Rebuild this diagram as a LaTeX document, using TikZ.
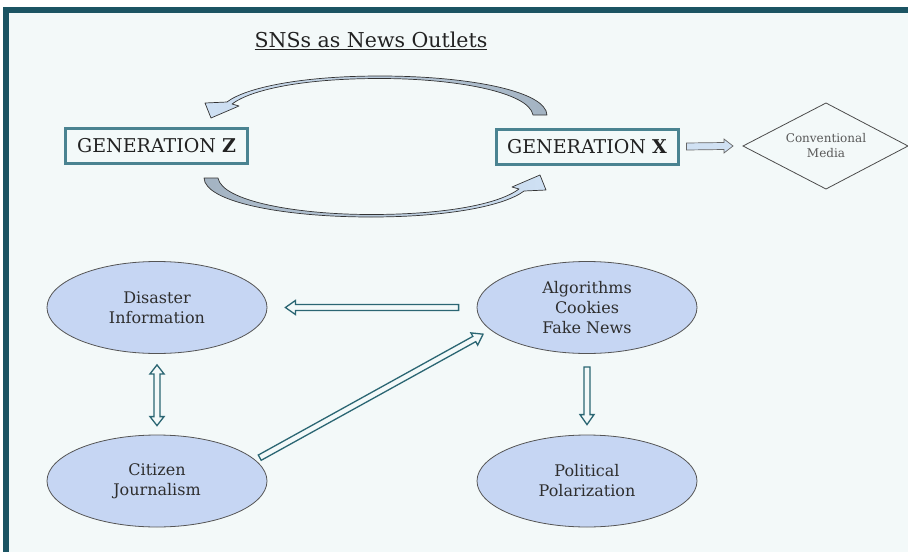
\documentclass[tikz,border=0pt]{standalone}
\usepackage{fontspec}
\setmainfont{DejaVu Serif}
\usetikzlibrary{calc,shapes.geometric}
\definecolor{barteal}{HTML}{1B5463}
\definecolor{bgc}{HTML}{F3F9F9}
\definecolor{boxteal}{HTML}{4A8391}
\definecolor{ovalfill}{HTML}{C6D6F3}
\definecolor{ovalline}{HTML}{555555}
\definecolor{arrteal}{HTML}{2B6673}
\definecolor{blockblue}{HTML}{D0E1F3}
\definecolor{headblue}{HTML}{CFE1F4}
\definecolor{tailgray}{HTML}{A3B3C2}
\definecolor{txt}{HTML}{222222}
\definecolor{txttwo}{HTML}{2E2E2E}
\newcommand\hollowarrow[2]{%
  \coordinate (ha-s) at (#1);
  \coordinate (ha-e) at (#2);
  \coordinate (ha-h) at ($(ha-e)!10pt!(ha-s)$);
  \draw[hollowarr] ($(ha-s)!3pt!90:(ha-e)$) -- ($(ha-h)!3pt!90:(ha-e)$) -- ($(ha-h)!7pt!90:(ha-e)$) -- (ha-e) -- ($(ha-h)!7pt!-90:(ha-e)$) -- ($(ha-h)!3pt!-90:(ha-e)$) -- ($(ha-s)!3pt!-90:(ha-e)$) -- cycle;
}
\newcommand\hollowdarrow[2]{%
  \coordinate (hd-s) at (#1);
  \coordinate (hd-e) at (#2);
  \coordinate (hd-a) at ($(hd-s)!9pt!(hd-e)$);
  \coordinate (hd-b) at ($(hd-e)!9pt!(hd-s)$);
  \draw[hollowarr] (hd-s) -- ($(hd-a)!7pt!90:(hd-e)$) -- ($(hd-a)!3pt!90:(hd-e)$) -- ($(hd-b)!3pt!90:(hd-e)$) -- ($(hd-b)!7pt!90:(hd-e)$) -- (hd-e) -- ($(hd-b)!7pt!-90:(hd-e)$) -- ($(hd-b)!3pt!-90:(hd-e)$) -- ($(hd-a)!3pt!-90:(hd-e)$) -- ($(hd-a)!7pt!-90:(hd-e)$) -- cycle;
}
\begin{document}
\begin{tikzpicture}[x=1pt,y=-1pt,
  genbox/.style={draw=boxteal, line width=3pt, fill=bgc, minimum width=182pt, minimum height=35pt, inner sep=0pt, font=\fontsize{19}{23}\selectfont, text=txt},
  oval/.style={ellipse, draw=ovalline, line width=0.8pt, fill=ovalfill, minimum width=220pt, minimum height=92pt, inner sep=0pt, align=center, font=\fontsize{16}{20}\selectfont, text=txttwo},
  hollowarr/.style={draw=arrteal, line width=1.3pt, fill=bgc, line join=miter},
  blockarr/.style={draw=black!60, line width=0.7pt, fill=blockblue},
  curvarr/.style={draw=black!80, line width=0.7pt, line join=round},
  diamondline/.style={draw=black!70, line width=0.8pt}]
\useasboundingbox (0,0) rectangle (908,552);
% background and frame
\fill[white] (0,0) rectangle (908,552);
\fill[bgc] (9,13) rectangle (908,552);
\fill[barteal] (3,7) rectangle (908,13);
\fill[barteal] (3,7) rectangle (9,552);
% title
\node[font=\fontsize{20.5}{24}\selectfont, text=txt] (title) at (371,41) {\underline{SNSs as News Outlets}};
% generation boxes
\node[genbox] (genz) at (156.5,146) {GENERATION \textbf{Z}};
\node[genbox] (genx) at (587,146.5) {GENERATION \textbf{X}};
% conventional media
\node[align=center, inner sep=0pt, font=\fontsize{12}{15}\selectfont, text=black!65] (conv) at (826,146) {Conventional\\Media};
\draw[diamondline] ($(conv)+(-83,0)$) -- ($(conv)+(0,-43)$) -- ($(conv)+(82,0)$) -- ($(conv)+(0,43)$) -- cycle;
% block arrow genx -> conv
\coordinate (ba-s) at ($(genx.east)+(7,0)$);
\coordinate (ba-e) at ($(conv)+(-93,0)$);
\draw[blockarr] ($(ba-s)+(0,-3.5)$) -- ($(ba-e)+(-9,-3.5)$) -- ($(ba-e)+(-9,-7)$) -- (ba-e) -- ($(ba-e)+(-9,7)$) -- ($(ba-e)+(-9,3.5)$) -- ($(ba-s)+(0,3.5)$) -- cycle;
% curved arrows
\path[curvarr, left color=headblue, right color=tailgray] (547,115) .. controls (546,91) and (468,76) .. (380,76) .. controls (300,76) and (245,88) .. (227,102) -- (205,103) -- (211,118) -- (239,106) -- (232,104) .. controls (252,89) and (305,78.5) .. (380,78.5) .. controls (455,78.5) and (529,92) .. (533,115) -- cycle;
\path[curvarr, left color=tailgray, right color=headblue] (204,178) .. controls (205,202) and (283,217) .. (371,217) .. controls (451,217) and (506,205) .. (524,191) -- (546,190) -- (540,175) -- (512,187) -- (519,189) .. controls (499,204) and (446,214.5) .. (371,214.5) .. controls (296,214.5) and (222,201) .. (218,178) -- cycle;
% ovals
\node[oval] (dis) at (157,307.5) {Disaster\\Information};
\node[oval] (alg) at (587,307.5) {Algorithms\\Cookies\\Fake News};
\node[oval] (cit) at (157,481) {Citizen\\Journalism};
\node[oval] (pol) at (587,481) {Political\\Polarization};
% hollow arrows
\hollowarrow{$(alg.west)+(-18,0)$}{$(dis.east)+(18,0)$}
\hollowarrow{$(alg.south)+(0,13)$}{$(pol.north)+(0,-10)$}
\hollowarrow{$(cit.13)+(6,-1)$}{$(alg.194)+(-9,3)$}
\hollowdarrow{$(dis.south)+(0,11)$}{$(cit.north)+(0,-9)$}
\end{tikzpicture}
\end{document}
